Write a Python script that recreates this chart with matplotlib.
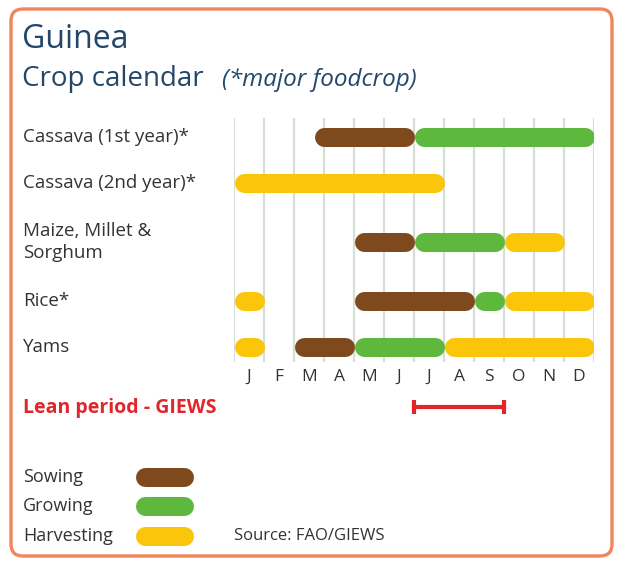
import matplotlib
matplotlib.use("Agg")
import matplotlib.pyplot as plt
from matplotlib.patches import FancyBboxPatch

plt.rcParams['font.family'] = ['Open Sans', 'DejaVu Sans']

# crop calendar data (month units, 0 = start of January)
months = ["J", "F", "M", "A", "M", "J", "J", "A", "S", "O", "N", "D"]
crops = ["Cassava (1st year)*", "Cassava (2nd year)*", "Maize, Millet &\nSorghum", "Rice*", "Yams"]
sowing = [[(2.67, 6)], [], [(4, 6)], [(4, 8)], [(2, 4)]]
growing = [[(6, 12)], [], [(6, 9)], [(8, 9)], [(4, 7)]]
harvesting = [[], [(0, 7)], [(9, 11)], [(0, 1), (9, 12)], [(0, 1), (7, 12)]]
lean_period = (6, 9)

stages = ["Sowing", "Growing", "Harvesting"]
colors = {"Sowing": "#7e4a1d", "Growing": "#5db83d", "Harvesting": "#fbc50a"}

W, H = 620, 561
row_y = [137, 183, 242, 301, 347]
bar_px = 19
lw = bar_px * 72 / 100.0
r = bar_px / 2 / 30.0  # cap radius in month units

fig = plt.figure(figsize=(W / 100, H / 100), dpi=100)

# decoration axes in pixel coordinates
deco = fig.add_axes([0, 0, 1, 1])
deco.set_xlim(0, W)
deco.set_ylim(H, 0)
deco.axis('off')

border = FancyBboxPatch((11, 9), 601, 547, boxstyle="round,pad=0,rounding_size=12",
                        fc='white', ec='#f0875c', lw=2.4)
deco.add_patch(border)

title_col = '#23476a'
deco.text(22, 39, "Guinea", fontsize=23, color=title_col, va='center')
deco.text(22, 79, "Crop calendar", fontsize=20, color=title_col, va='center')
deco.text(222, 80, "(*major foodcrop)", fontsize=17.5, color=title_col, va='center',
          style='italic')

lab_col = '#333333'
for name, y in zip(crops, row_y):
    deco.text(23, y, name, fontsize=13.5, color=lab_col, va='center', linespacing=1.3)

deco.text(23, 408, "Lean period - GIEWS", fontsize=14, color='#e0262b', va='center',
          fontweight='bold')

leg_y = [477, 506, 536]
for st, y in zip(stages, leg_y):
    deco.text(23, y, st, fontsize=13, color=lab_col, va='center')
    deco.plot([135 + bar_px / 2, 193 - bar_px / 2], [y, y], color=colors[st], lw=lw,
              solid_capstyle='round')
deco.text(234, 536, "Source: FAO/GIEWS", fontsize=12, color=lab_col, va='center')

# chart axes: x in months, y in pixels
ax = fig.add_axes([234 / W, 0, 360 / W, 1])
ax.set_xlim(0, 12)
ax.set_ylim(H, 0)
ax.axis('off')

ax.vlines(range(13), 118, 362, color='#d6dfd4', lw=1.6, zorder=1)

z = {"Sowing": 4, "Growing": 3, "Harvesting": 2}
for st, segs in zip(stages, [sowing, growing, harvesting]):
    for y, row in zip(row_y, segs):
        for s, e in row:
            ax.plot([s + r, e - r], [y, y], color=colors[st], lw=lw,
                    solid_capstyle='round', zorder=z[st])

for i, m in enumerate(months):
    ax.text(i + 0.5, 377, m, ha='center', va='center', fontsize=12.5, color=lab_col)

red = '#e0262b'
ax.plot(lean_period, [407, 407], color=red, lw=3)
ax.vlines(lean_period, 400, 414, color=red, lw=3)

fig.savefig("out.png", dpi=100)
